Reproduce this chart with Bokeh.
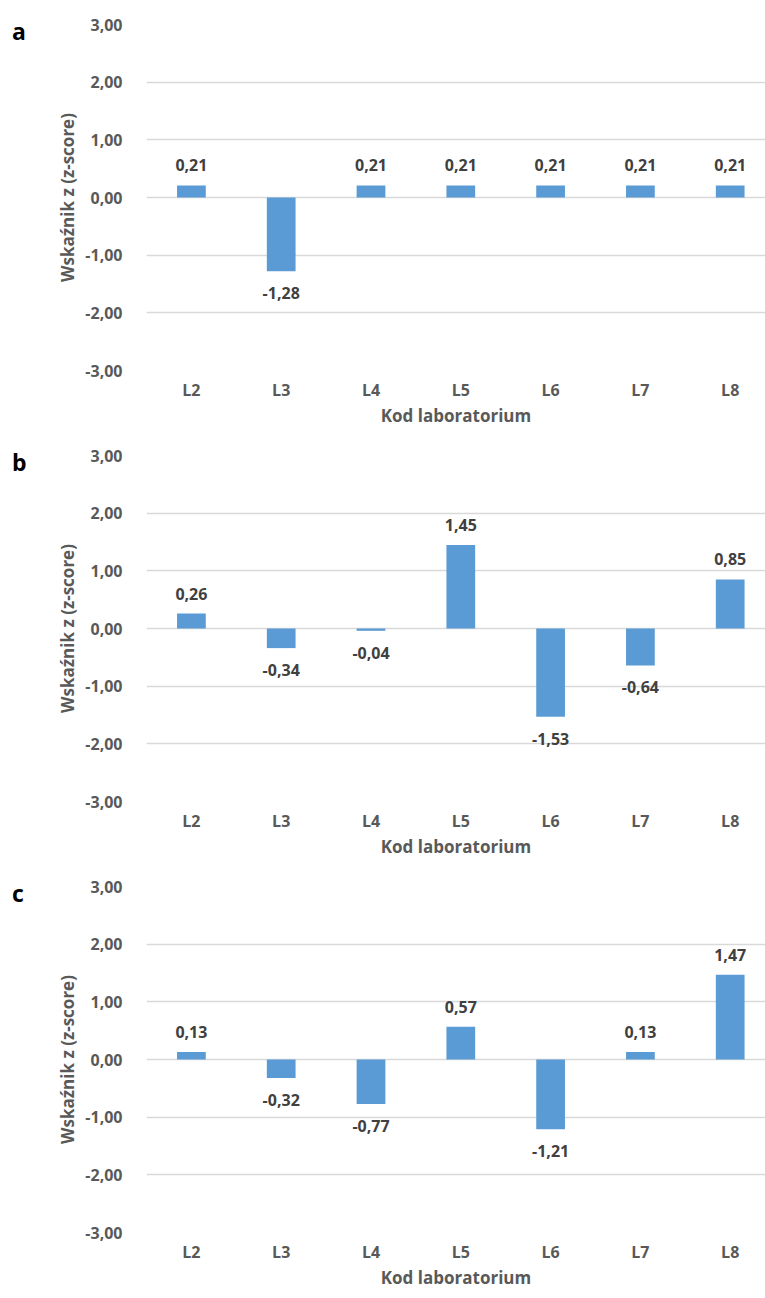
from bokeh.plotting import figure
from bokeh.layouts import column, row
from bokeh.models import ColumnDataSource, Range1d, FixedTicker, Div
from bokeh.core.properties import value
from bokeh.embed import file_html
from bokeh.resources import INLINE

# z-scores per laboratory for three rounds (a, b, c)
labs = ["L2", "L3", "L4", "L5", "L6", "L7", "L8"]
z_a = [0.21, -1.28, 0.21, 0.21, 0.21, 0.21, 0.21]
z_b = [0.26, -0.34, -0.04, 1.45, -1.53, -0.64, 0.85]
z_c = [0.13, -0.32, -0.77, 0.57, -1.21, 0.13, 1.47]
panel_letters = ["a", "b", "c"]
y_ticks = [-3, -2, -1, 0, 1, 2, 3]

FONT = "Open Sans"
BAR = "#5B9BD5"
GRID = "#D9D9D9"
AXIS_TXT = "#595959"
LABEL_TXT = "#404040"

LETTER_W = 40
PANEL_H = 431


def fmt(v):
    return f"{v:.2f}".replace(".", ",")


def split(values, keep):
    xs = range(len(values))
    pairs = [(x, v) for x, v in zip(xs, values) if keep(v)]
    return ColumnDataSource(dict(
        x=[x for x, _ in pairs],
        z=[v for _, v in pairs],
        lab=[fmt(v) for _, v in pairs],
    ))


def panel(values):
    xs = list(range(len(labs)))
    p = figure(
        frame_width=619, frame_height=346,
        min_border_left=146 - LETTER_W, min_border_right=0,
        min_border_top=24, min_border_bottom=61,
        x_range=Range1d(-0.5, -0.5 + 619 / 89.8),
        y_range=Range1d(-3, 3),
        output_backend="svg", toolbar_location=None,
        background_fill_color="white", border_fill_color="white",
    )
    p.outline_line_color = None

    p.vbar(x=xs, top=values, bottom=0, width=0.32,
           fill_color=BAR, line_color=None)

    common = dict(text="lab", text_align="center", text_baseline="middle",
                  text_font=value(FONT), text_font_style="bold",
                  text_font_size="16px", text_color=LABEL_TXT)
    p.text(x="x", y="z", y_offset=-20, source=split(values, lambda v: v >= 0), **common)
    p.text(x="x", y="z", y_offset=22, source=split(values, lambda v: v < 0), **common)

    # y axis
    p.yaxis.ticker = FixedTicker(ticks=y_ticks)
    p.yaxis.major_label_overrides = {t: fmt(t) for t in y_ticks}
    p.yaxis.axis_line_color = None
    p.yaxis.major_tick_line_color = None
    p.yaxis.minor_tick_line_color = None
    p.yaxis.major_label_standoff = 18
    p.yaxis.major_label_text_font = FONT
    p.yaxis.major_label_text_font_style = "bold"
    p.yaxis.major_label_text_font_size = "16px"
    p.yaxis.major_label_text_color = AXIS_TXT
    p.yaxis.axis_label = "Wskaźnik z (z-score)"
    p.yaxis.axis_label_text_font = FONT
    p.yaxis.axis_label_text_font_style = "bold"
    p.yaxis.axis_label_text_font_size = "17px"
    p.yaxis.axis_label_text_color = AXIS_TXT
    p.yaxis.axis_label_standoff = 3

    # x axis
    p.xaxis.ticker = FixedTicker(ticks=xs)
    p.xaxis.major_label_overrides = {i: l for i, l in enumerate(labs)}
    p.xaxis.axis_line_color = None
    p.xaxis.major_tick_line_color = None
    p.xaxis.minor_tick_line_color = None
    p.xaxis.major_tick_out = 0
    p.xaxis.major_tick_in = 0
    p.xaxis.major_label_standoff = 8
    p.xaxis.major_label_text_font = FONT
    p.xaxis.major_label_text_font_style = "bold"
    p.xaxis.major_label_text_font_size = "16px"
    p.xaxis.major_label_text_color = AXIS_TXT
    p.xaxis.axis_label = "Kod laboratorium"
    p.xaxis.axis_label_text_font = FONT
    p.xaxis.axis_label_text_font_style = "bold"
    p.xaxis.axis_label_text_font_size = "17px"
    p.xaxis.axis_label_text_color = AXIS_TXT
    p.xaxis.axis_label_standoff = 0

    p.xgrid.grid_line_color = None
    p.ygrid.grid_line_color = GRID
    p.ygrid.grid_line_width = 1.5
    return p


def letter(text):
    return Div(
        text=text, width=LETTER_W, height=PANEL_H, margin=0,
        styles={
            "font-family": FONT, "font-weight": "bold", "font-size": "23px",
            "line-height": "23px", "color": "black",
            "padding-top": "20px", "padding-left": "12px",
            "box-sizing": "border-box",
        },
    )


rows = [row(letter(l), panel(v), spacing=0)
        for v, l in zip([z_a, z_b, z_c], panel_letters)]
layout = column(*rows, spacing=0)
open("out.html", "w").write(file_html(layout, INLINE))
